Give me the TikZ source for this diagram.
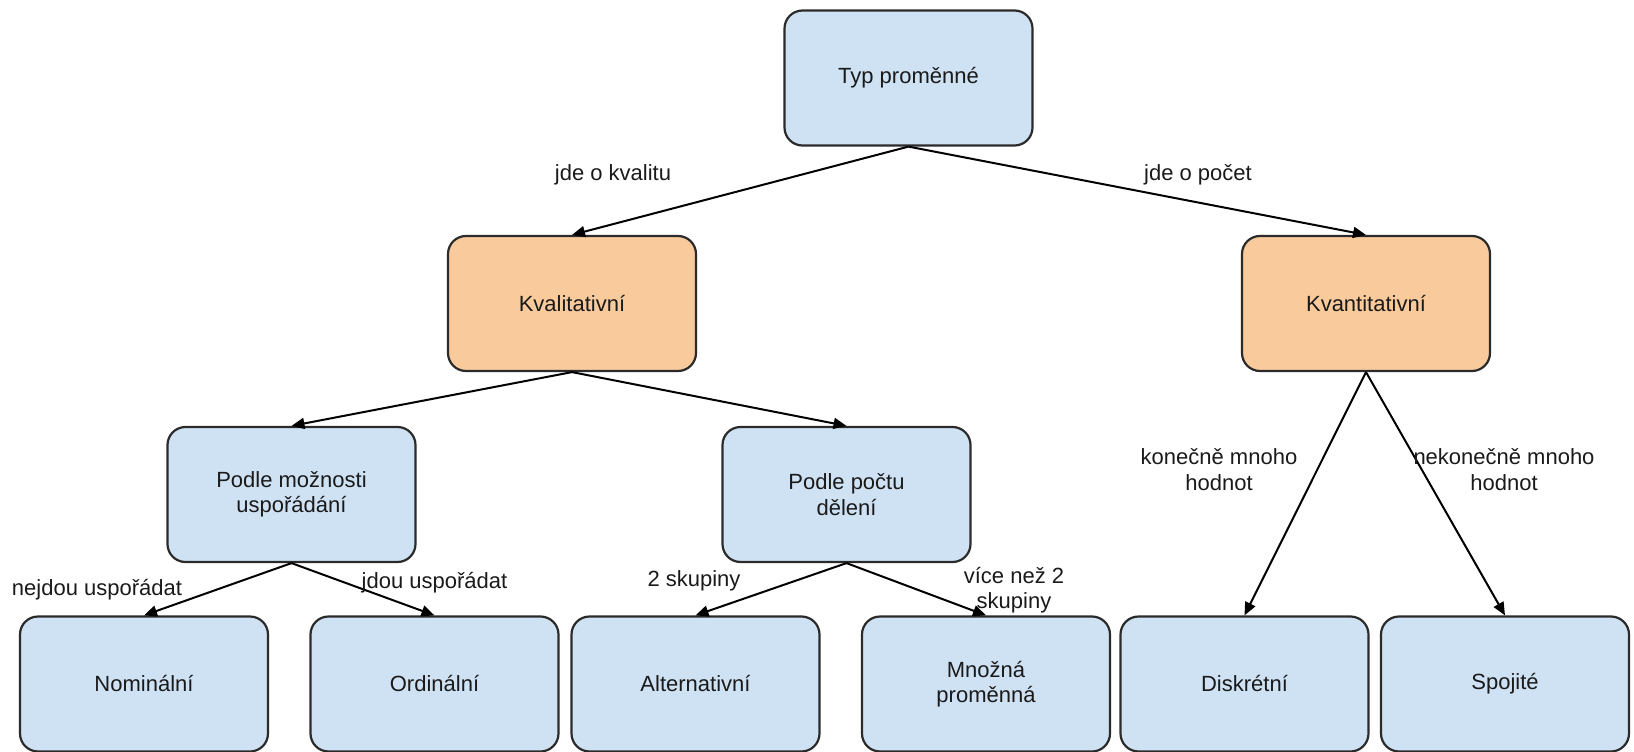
\documentclass[tikz,border=0pt]{standalone}
\usepackage{fontspec}
\setmainfont{Liberation Sans}
\usetikzlibrary{arrows.meta}
\definecolor{boxblue}{HTML}{CFE2F3}
\definecolor{boxorange}{HTML}{F9CB9C}
\definecolor{boxline}{HTML}{2B2B2B}
\definecolor{txt}{HTML}{1A1A1A}
\begin{document}
\begin{tikzpicture}[x=1pt,y=-1pt,
  box/.style={draw=boxline, line width=2.2pt, rounded corners=18pt,
    minimum width=248pt, minimum height=135pt, align=center,
    font=\fontsize{22}{25.5}\selectfont, text=txt, inner sep=0pt},
  bluebox/.style={box, fill=boxblue},
  orangebox/.style={box, fill=boxorange},
  conn/.style={-{Triangle[length=13pt,width=11pt]}, line width=2pt, draw=black},
  lbl/.style={font=\fontsize{22}{25.5}\selectfont, text=txt, align=center, inner sep=0pt}]
\useasboundingbox (0,0) rectangle (1634,752);

\node[bluebox]   (typ)   at (908.5,78)   {Typ proměnné};
\node[orangebox] (kval)  at (572,303.5)  {Kvalitativní};
\node[orangebox] (kvant) at (1366,303.5) {Kvantitativní};
\node[bluebox]   (usp)   at (291.5,494.5) {Podle možnosti\\uspořádání};
\node[bluebox]   (poc)   at (846.5,494.5) {Podle počtu\\dělení};
\node[bluebox]   (nom)   at (144,684)    {Nominální};
\node[bluebox]   (ord)   at (434.5,684)  {Ordinální};
\node[bluebox]   (alt)   at (695.5,684)  {Alternativní};
\node[bluebox]   (mno)   at (986,684)    {Množná\\proměnná};
\node[bluebox]   (dis)   at (1244.5,684) {Diskrétní};
\node[bluebox]   (spo)   at (1505,684)   {Spojité};

\draw[conn] (typ.south) -- (kval.north);
\draw[conn] (typ.south) -- (kvant.north);
\draw[conn] (kval.south) -- (usp.north);
\draw[conn] (kval.south) -- (poc.north);
\draw[conn] (usp.south) -- (nom.north);
\draw[conn] (usp.south) -- (ord.north);
\draw[conn] (poc.south) -- (alt.north);
\draw[conn] (poc.south) -- (mno.north);
\draw[conn] (kvant.south) -- (dis.north);
\draw[conn] (kvant.south) -- (spo.north);

\node[lbl] (l1) at (613,175)  {jde o kvalitu};
\node[lbl] (l2) at (1198,175) {jde o počet};
\node[lbl] (l3) at (97,590)   {nejdou uspořádat};
\node[lbl] (l4) at (434.5,583) {jdou uspořádat};
\node[lbl] (l5) at (694,581)  {2 skupiny};
\node[lbl] (l6) at (1014,590) {více než 2\\skupiny};
\node[lbl] (l7) at (1219,469.5) {konečně mnoho\\hodnot};
\node[lbl] (l8) at (1504,469.5) {nekonečně mnoho\\hodnot};
\end{tikzpicture}
\end{document}
